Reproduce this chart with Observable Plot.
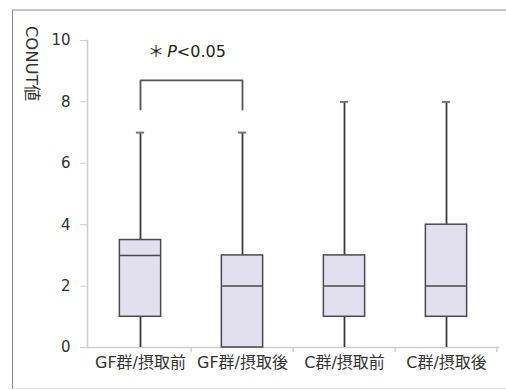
<!DOCTYPE html>
<html>
<head>
<meta charset="utf-8">
<script src="https://cdn.jsdelivr.net/npm/d3@7"></script>
<script src="https://cdn.jsdelivr.net/npm/@observablehq/plot@0.6"></script>
<style>
  html, body { margin: 0; padding: 0; background: #fff; }
  #wrap { position: relative; width: 506px; height: 390px; overflow: hidden; }
  #wrap svg, #wrap svg text { font-family: "DejaVu Sans", "Noto Sans CJK JP", sans-serif !important; }
  #border { position: absolute; left: 12px; top: 9px; right: -5px; bottom: 1px;
    border-left: 1.5px solid #8a8a8a; border-top: 2px solid #c4c4c4; border-bottom: 1px solid #e4e4e4; pointer-events: none; }
</style>
</head>
<body>
<div id="wrap"><div id="border"></div></div>
<script>
// ---- data ----
const categories = ["GF群/摂取前", "GF群/摂取後", "C群/摂取前", "C群/摂取後"];
const mins    = [0, 0, 0, 0];
const q1s     = [1, 0, 1, 1];
const medians = [3, 2, 2, 2];
const q3s     = [3.5, 3, 3, 4];
const maxs    = [7, 7, 8, 8];
const yTicks  = [0, 2, 4, 6, 8, 10];
const yLabel  = "CONUT値";
const sigLabel = "＊P<0.05";
const bracketLow = 7.75, bracketHigh = 8.7, sigY = 9.62;

const boxes = categories.map((c, i) => ({cat: c, min: mins[i], q1: q1s[i], med: medians[i], q3: q3s[i], max: maxs[i]}));
const bracket = [
  {x: categories[0], y: bracketLow}, {x: categories[0], y: bracketHigh},
  {x: categories[1], y: bracketHigh}, {x: categories[1], y: bracketLow}
];

const W = 506, H = 390, mL = 87, mR = 8, mT = 40, mB = 43;
const step = (W - mL - mR) / categories.length;
const boxInset = (step - 42) / 2;
const capInset = (step - 9) / 2;
const axisGray = "#cfcfcf";

const chart = Plot.plot({
  width: W, height: H,
  marginLeft: mL, marginRight: mR, marginTop: mT, marginBottom: mB,
  style: {background: "transparent", overflow: "visible"},
  x: {type: "band", domain: categories, padding: 0},
  y: {domain: [0, 10]},
  marks: [
    Plot.frame({anchor: "left", stroke: axisGray, strokeWidth: 1.5}),
    Plot.frame({anchor: "bottom", stroke: axisGray, strokeWidth: 1.5}),
    Plot.axisY({ticks: yTicks, tickSize: 7, tickPadding: 10, stroke: axisGray, fill: "#333", fontSize: 15, label: null}),
    Plot.axisX({tickSize: 0, tickPadding: 9, fill: "#333", fontSize: 16, label: null}),
    // tick marks on band edges
    Plot.ruleX(categories.slice(1), {x: d => d, dx: -step / 2, y1: 0, y2: 0, insetBottom: -5, stroke: axisGray, strokeWidth: 1.5}),
    Plot.ruleX(categories.slice(-1), {x: d => d, dx: step / 2 - 1, y1: 0, y2: 0, insetBottom: -5, stroke: axisGray, strokeWidth: 1.5}),
    // whiskers
    Plot.ruleX(boxes, {x: "cat", y1: "min", y2: "q1", stroke: "#3a3a3a", strokeWidth: 1.8}),
    Plot.ruleX(boxes, {x: "cat", y1: "q3", y2: "max", stroke: "#3a3a3a", strokeWidth: 1.8}),
    Plot.tickY(boxes, {x: "cat", y: "max", insetLeft: capInset, insetRight: capInset, stroke: "#777", strokeWidth: 2}),
    // boxes
    Plot.barY(boxes, {x: "cat", y1: "q1", y2: "q3", insetLeft: boxInset, insetRight: boxInset, fill: "#e2dfef", stroke: "#4a4a4a", strokeWidth: 1.5}),
    Plot.tickY(boxes, {x: "cat", y: "med", insetLeft: boxInset, insetRight: boxInset, stroke: "#4a4a4a", strokeWidth: 1.5}),
    // significance bracket
    Plot.line(bracket, {x: "x", y: "y", stroke: "#555", strokeWidth: 1.8, curve: "linear"}),
    Plot.text([sigLabel], {x: () => categories[0], y: () => sigY, dx: step / 2 - 5, text: d => d, fontSize: 16, fill: "#222", textAnchor: "middle"}),
    // y label
    Plot.text([yLabel], {frameAnchor: "top-left", dx: -50, dy: 23, rotate: 90, text: d => d, fontSize: 16.5, fill: "#333", textAnchor: "middle"})
  ]
});

document.getElementById("wrap").prepend(chart);

// italic P in the significance label
chart.querySelectorAll("text").forEach(t => {
  if (t.textContent === sigLabel) {
    t.textContent = "";
    const parts = [["＊", "normal"], ["\u2009", "normal"], ["P", "italic"], ["<0.05", "normal"]];
    parts.forEach(([s, st]) => {
      const ts = document.createElementNS("http://www.w3.org/2000/svg", "tspan");
      ts.textContent = s;
      ts.setAttribute("font-style", st);
      t.appendChild(ts);
    });
  }
});
</script>
</body>
</html>
